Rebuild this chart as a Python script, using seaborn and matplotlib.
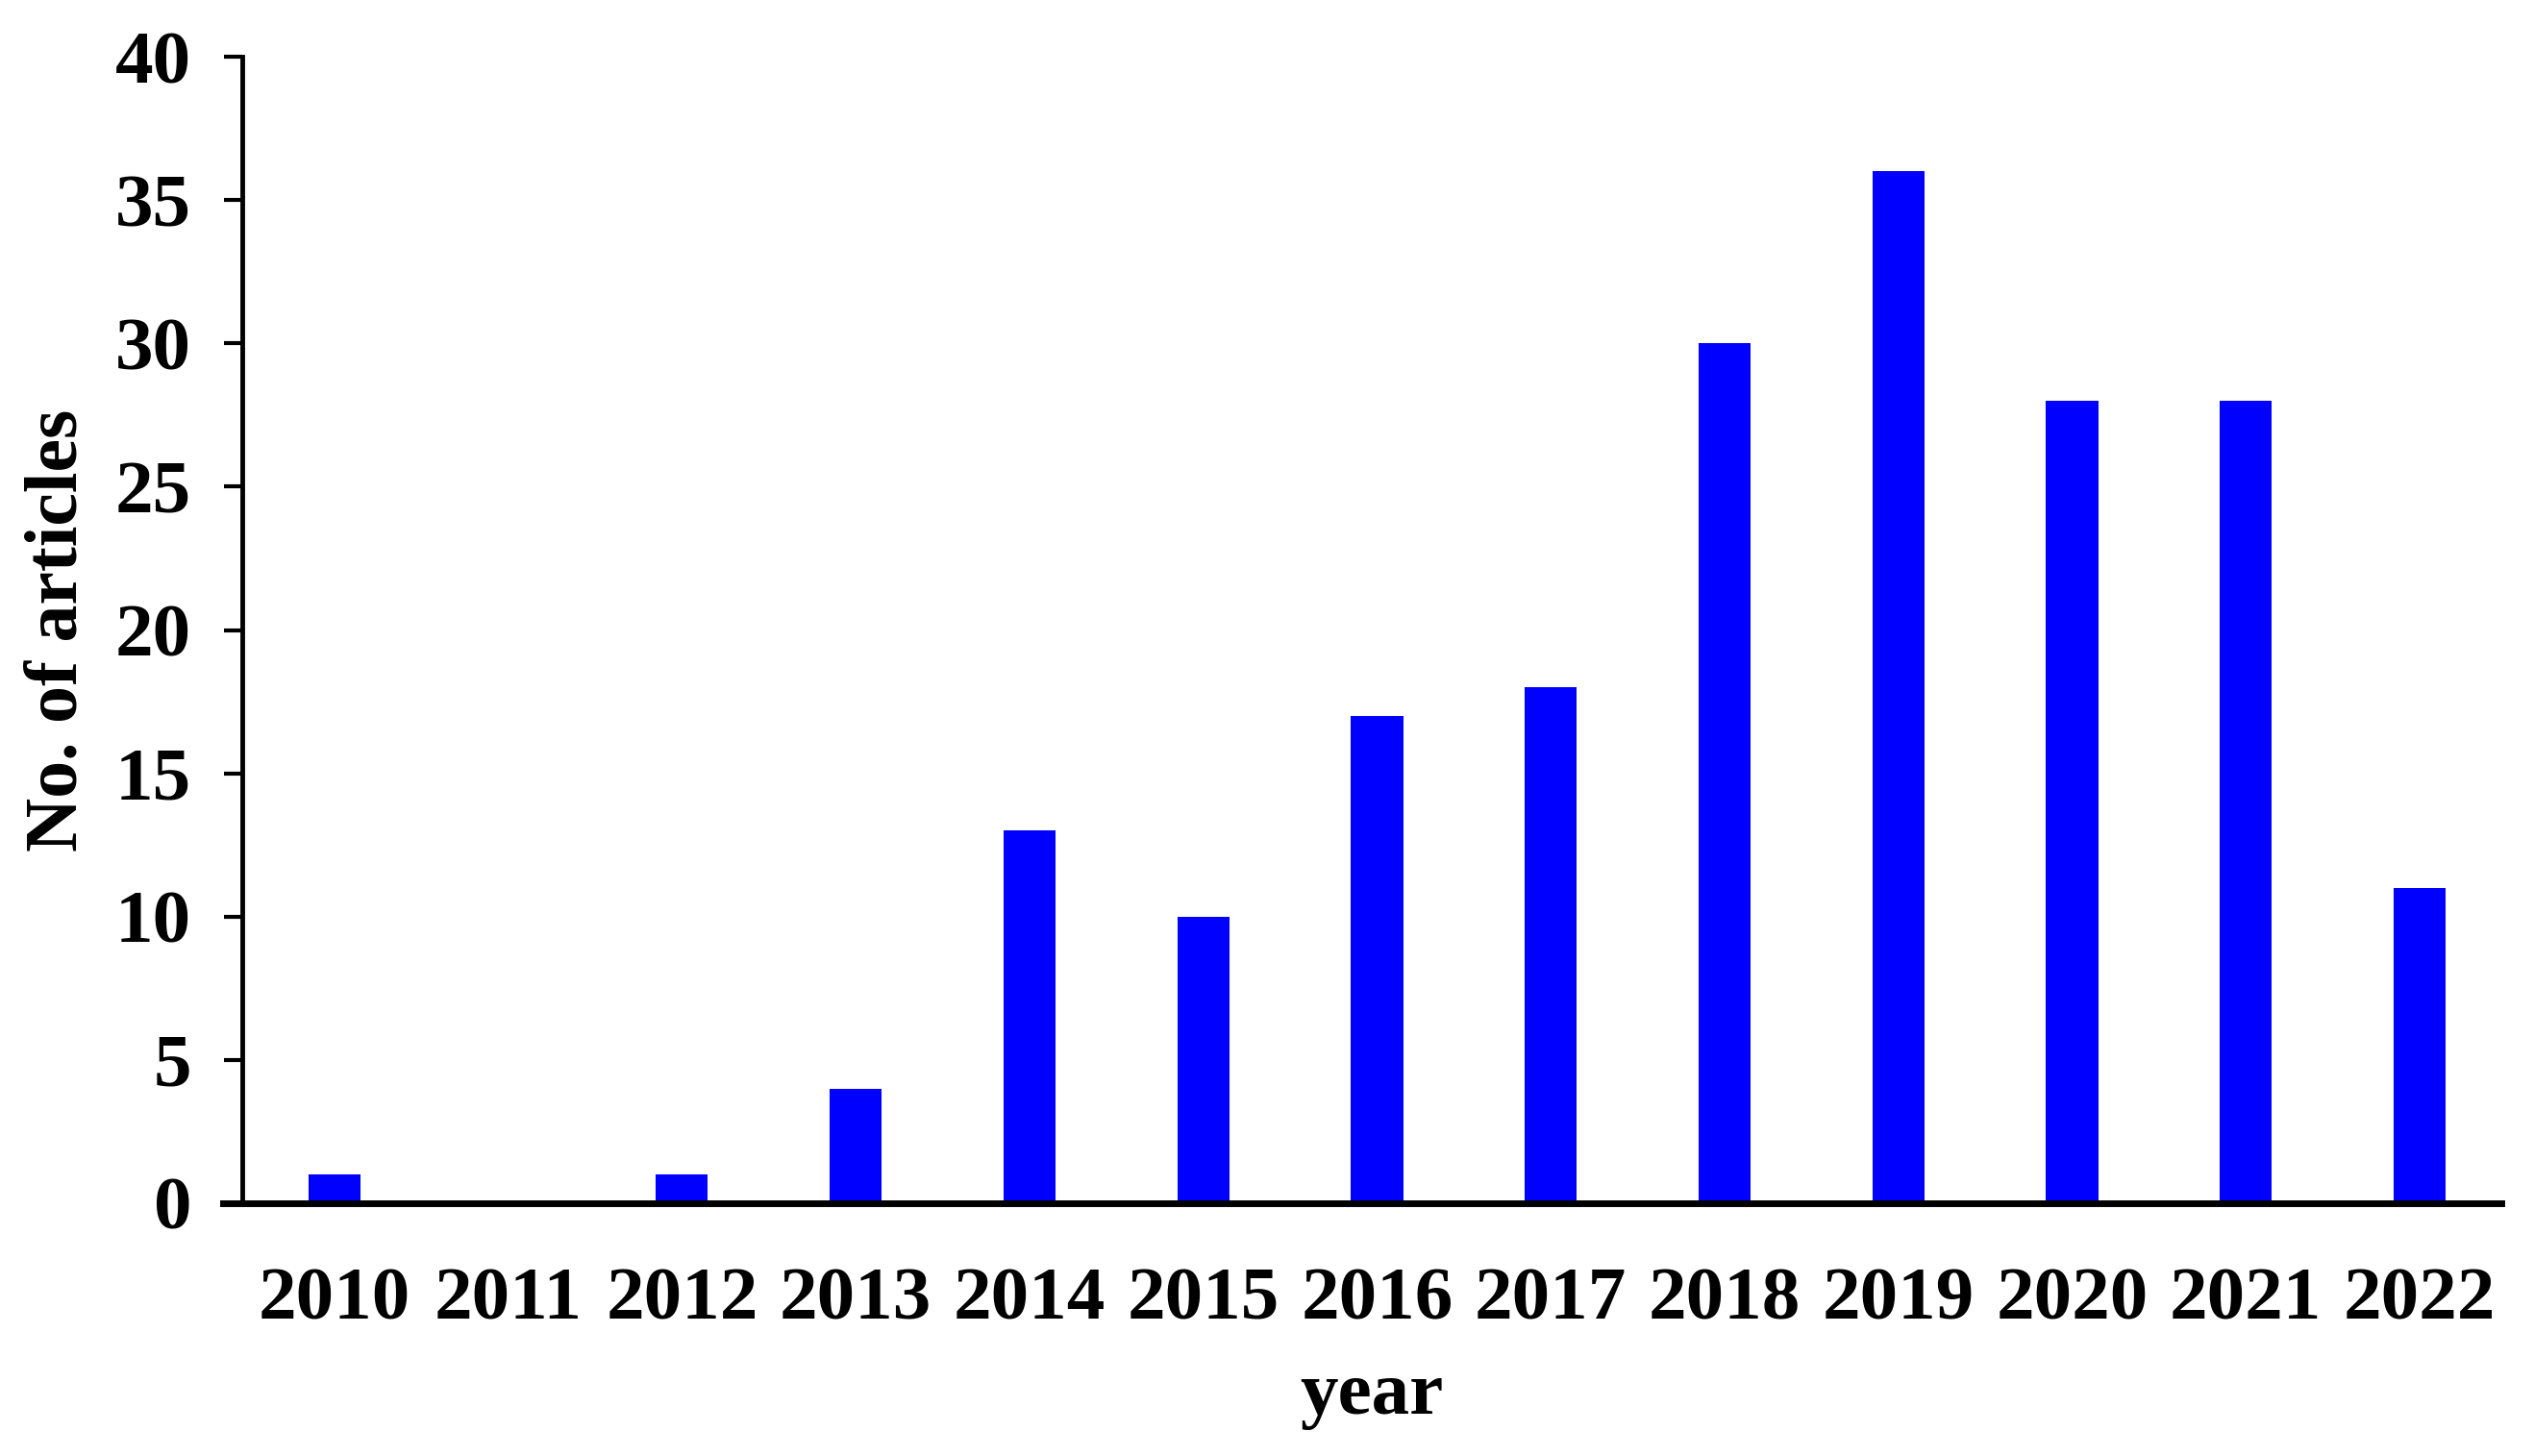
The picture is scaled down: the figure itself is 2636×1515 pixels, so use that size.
import matplotlib
matplotlib.use("Agg")
import matplotlib.pyplot as plt
from matplotlib import font_manager
import seaborn as sns
import pandas as pd

years = ["2010", "2011", "2012", "2013", "2014", "2015", "2016",
         "2017", "2018", "2019", "2020", "2021", "2022"]
articles = [1, 0, 1, 4, 13, 10, 17, 18, 30, 36, 28, 28, 11]
y_ticks = [0, 5, 10, 15, 20, 25, 30, 35, 40]

sns.set_theme(style="ticks")

fam = "DejaVu Serif"
for f in font_manager.findSystemFonts():
    if "LiberationSerif" in f.replace(" ", "").replace("-", ""):
        try:
            font_manager.fontManager.addfont(f)
        except Exception:
            pass
try:
    font_manager.findfont("Liberation Serif", fallback_to_default=False)
    fam = "Liberation Serif"
except Exception:
    pass

plt.rcParams["font.family"] = [fam, "DejaVu Serif"]
plt.rcParams["font.weight"] = "bold"
plt.rcParams["text.color"] = "black"
plt.rcParams["axes.labelcolor"] = "black"
plt.rcParams["xtick.color"] = "black"
plt.rcParams["ytick.color"] = "black"

df = pd.DataFrame({"year": years, "articles": articles})

fig = plt.figure(figsize=(26.36, 15.15), dpi=100)
ax = fig.add_axes([0.0956, 0.1736, 0.8915, 0.7874])

sns.barplot(data=df, x="year", y="articles", color="#0000FF", saturation=1,
            width=0.3, ax=ax, edgecolor="none")

ax.set_xlim(-0.53, 12.47)
ax.set_ylim(0, 40)
ax.set_yticks(y_ticks)
ax.set_yticklabels([str(t) for t in y_ticks], fontsize=57, fontweight="bold", color="black")
ax.set_xticks(range(len(years)))
ax.set_xticklabels(years, fontsize=57, fontweight="bold", color="black")

ax.tick_params(axis="y", direction="out", length=14, width=3, pad=24, color="black")
ax.tick_params(axis="x", length=0, pad=48)

for s in ["top", "right"]:
    ax.spines[s].set_visible(False)
ax.spines["left"].set_linewidth(3.5)
ax.spines["left"].set_color("black")
ax.spines["bottom"].set_linewidth(5)
ax.spines["bottom"].set_color("black")
ax.spines["bottom"].set_bounds(-0.64, 12.47)

ax.set_xlabel("year", fontsize=57, fontweight="bold", color="black")
ax.set_ylabel("No. of articles", fontsize=56, fontweight="bold", color="black")
ax.yaxis.set_label_coords(-0.066, 0.5)
ax.xaxis.set_label_coords(0.5, -0.138)

fig.savefig("out.png", dpi=100, facecolor="white")
